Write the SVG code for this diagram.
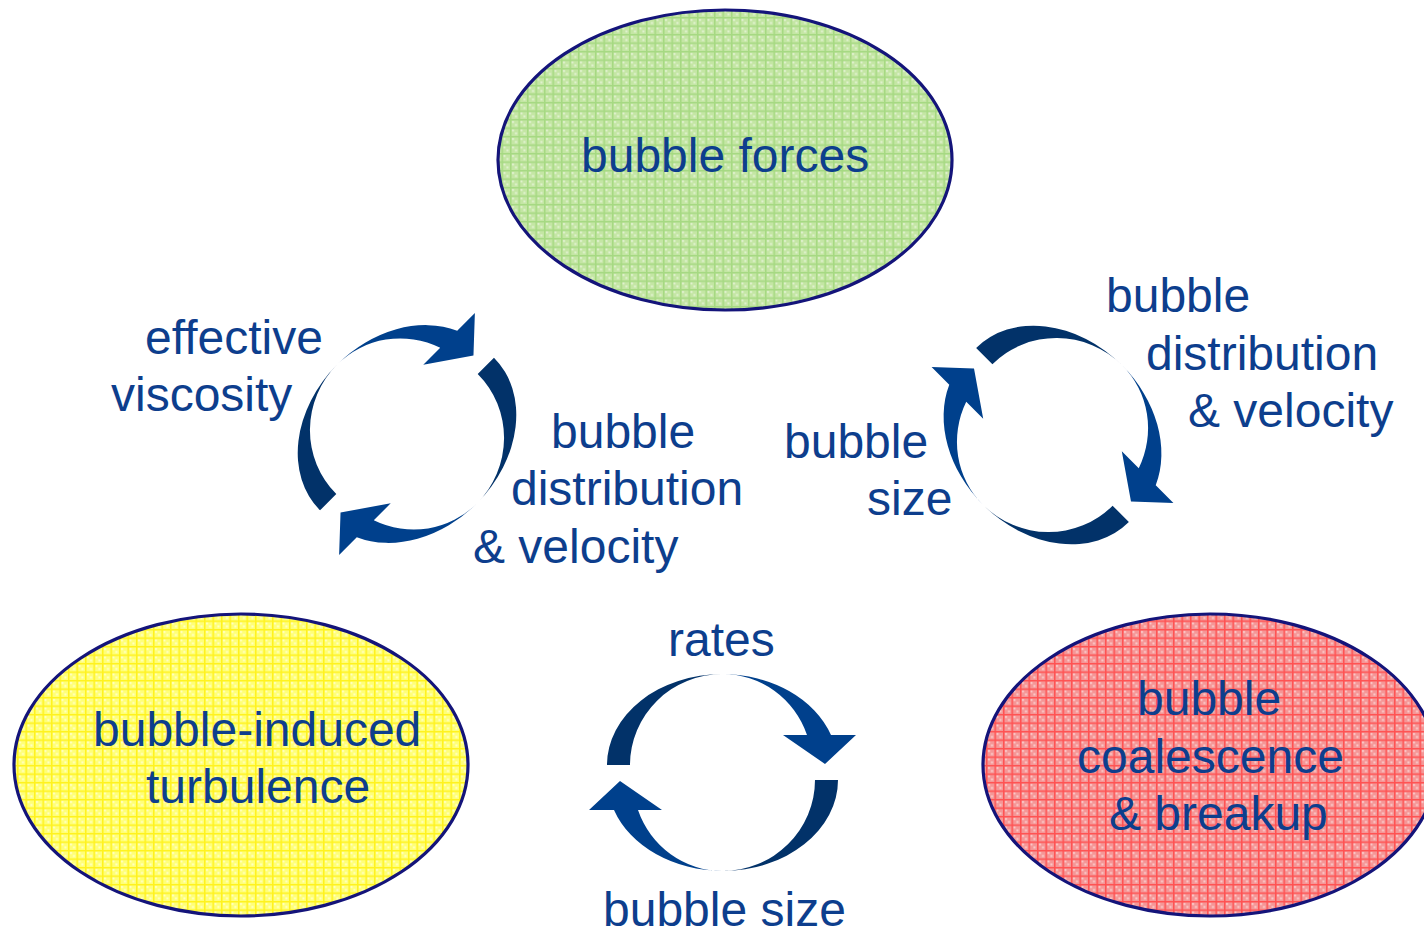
<svg xmlns="http://www.w3.org/2000/svg" xmlns:xlink="http://www.w3.org/1999/xlink" width="1424" height="932" viewBox="0 0 1424 932">
  <style>
    .lbl { font-family: "Liberation Sans", Arial, sans-serif; font-size: 48px; fill: #0D3E8D; }
    .node { stroke: #14147A; stroke-width: 3.2; }
    .dark { fill: #023269; }
    .light { fill: #00408C; }
  </style>
  <defs>
    <!-- hatched grid fills -->
    <pattern id="gridGreen" width="8.5" height="8.5" patternUnits="userSpaceOnUse">
      <rect width="8.5" height="8.5" fill="#C4E6A4"/>
      <rect x="2" y="2" width="2" height="2" fill="#E2F2D2"/>
      <rect x="5" y="5" width="2" height="2" fill="#E2F2D2"/>
      <path d="M0 0.75H8.5M0.75 0V8.5" stroke="#A6D982" stroke-width="1.5"/>
    </pattern>
    <pattern id="gridYellow" width="8.5" height="8.5" patternUnits="userSpaceOnUse">
      <rect width="8.5" height="8.5" fill="#FFFF78"/>
      <rect x="2" y="2" width="2" height="2" fill="#FFFFC8"/>
      <rect x="5" y="5" width="2" height="2" fill="#FFFFC8"/>
      <path d="M0 0.75H8.5M0.75 0V8.5" stroke="#FFF21E" stroke-width="1.5"/>
    </pattern>
    <pattern id="gridRed" width="8.5" height="8.5" patternUnits="userSpaceOnUse">
      <rect width="8.5" height="8.5" fill="#F59696"/>
      <rect x="2" y="2" width="2" height="2" fill="#FBCCCC"/>
      <rect x="5" y="5" width="2" height="2" fill="#FBCCCC"/>
      <path d="M0 0.75H8.5M0.75 0V8.5" stroke="#FF5252" stroke-width="1.5"/>
    </pattern>

    <!-- one curved arrow of a cycle, centred on 0,0 -->
    <g id="curvedArrow">
      <path class="dark" d="M-115.5 -7.5 A115.5 91 0 0 1 0 -98.5 A92.5 91 0 0 0 -92.5 -7.5 Z"/>
      <path class="light" d="M0 -98.5 A115.5 91 0 0 1 108.5 -37.5 L133.5 -37.5 L102.5 -8.5 L60.5 -37.5 L84.5 -37.5 A89.5 91 0 0 0 0 -98.5 Z"/>
    </g>
    <g id="cycle">
      <use xlink:href="#curvedArrow" href="#curvedArrow"/>
      <use xlink:href="#curvedArrow" href="#curvedArrow" transform="rotate(180)"/>
    </g>
  </defs>

  <rect width="1424" height="932" fill="#FFFFFF"/>

  <g id="node-forces">
    <ellipse class="node" cx="725" cy="160" rx="227" ry="150" fill="url(#gridGreen)"/>
    <text class="lbl" x="581" y="172">bubble forces</text>
  </g>

  <g id="node-turbulence">
    <ellipse class="node" cx="241" cy="765" rx="227" ry="151" fill="url(#gridYellow)"/>
    <text class="lbl" x="93" y="746">bubble-induced</text>
    <text class="lbl" x="146" y="803">turbulence</text>
  </g>

  <g id="node-coalescence">
    <ellipse class="node" cx="1210" cy="765" rx="227" ry="151" fill="url(#gridRed)"/>
    <text class="lbl" x="1137" y="715">bubble</text>
    <text class="lbl" x="1077" y="773">coalescence</text>
    <text class="lbl" x="1109" y="830">&amp; breakup</text>
  </g>

  <g id="connectors">
    <g id="cycle-forces-turbulence">
      <use xlink:href="#cycle" href="#cycle" transform="translate(407 434) rotate(-45)"/>
      <text class="lbl" x="145" y="354">effective</text>
      <text class="lbl" x="111" y="411">viscosity</text>
      <text class="lbl" x="551" y="448">bubble</text>
      <text class="lbl" x="511" y="505">distribution</text>
      <text class="lbl" x="473" y="563">&amp; velocity</text>
    </g>
    <g id="cycle-forces-coalescence">
      <use xlink:href="#cycle" href="#cycle" transform="translate(1052.5 435) rotate(45)"/>
      <text class="lbl" x="1106" y="312">bubble</text>
      <text class="lbl" x="1146" y="370">distribution</text>
      <text class="lbl" x="1188" y="427">&amp; velocity</text>
      <text class="lbl" x="784" y="458">bubble</text>
      <text class="lbl" x="867" y="515">size</text>
    </g>
    <g id="cycle-turbulence-coalescence">
      <use xlink:href="#cycle" href="#cycle" transform="translate(722.5 772.5)"/>
      <text class="lbl" x="668" y="656">rates</text>
      <text class="lbl" x="603" y="926">bubble size</text>
    </g>
  </g>
</svg>
